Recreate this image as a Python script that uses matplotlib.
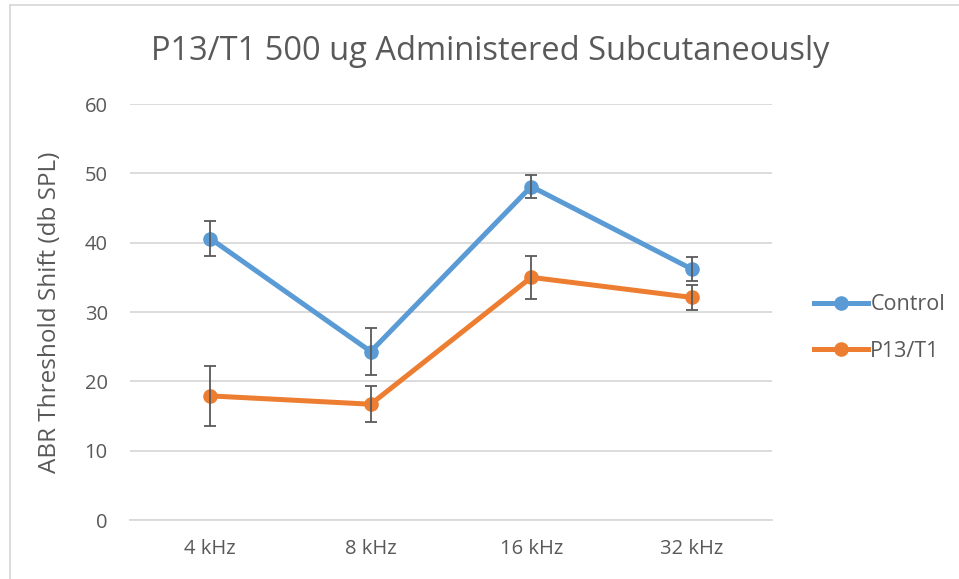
import numpy as np
import matplotlib
matplotlib.use('Agg')
import matplotlib.pyplot as plt
from matplotlib.lines import Line2D

# Data
freqs = ['4 kHz', '8 kHz', '16 kHz', '32 kHz']
control = [40.6, 24.3, 48.1, 36.2]
control_err = [2.5, 3.4, 1.6, 1.8]
p13 = [17.9, 16.7, 35.0, 32.1]
p13_err = [4.3, 2.6, 3.1, 1.8]

blue = '#5B9BD5'
orange = '#ED7D31'
grey = '#595959'

plt.rcParams['font.family'] = ['Open Sans', 'DejaVu Sans']

fig = plt.figure(figsize=(9.59, 5.79), dpi=100)
ax = fig.add_axes([130/959, 59/579, 642/959, 416/579])

x = np.arange(len(freqs))
ax.plot(x, control, color=blue, lw=3.6, marker='o', ms=9.5, zorder=3, label='Control')
ax.errorbar(x, control, yerr=control_err, fmt='none', ecolor=grey, elinewidth=1.3,
            capsize=4.5, capthick=1.3, zorder=4)
ax.plot(x, p13, color=orange, lw=3.6, marker='o', ms=9.5, zorder=3, label='P13/T1')
ax.errorbar(x, p13, yerr=p13_err, fmt='none', ecolor=grey, elinewidth=1.3,
            capsize=4.5, capthick=1.3, zorder=4)

ax.set_xlim(-0.5, len(freqs) - 0.5)
ax.set_ylim(0, 60)
ax.set_yticks(range(0, 61, 10))
ax.set_xticks(x)
ax.set_xticklabels(freqs)
ax.yaxis.grid(True, color='#d9d9d9', lw=1.3)
ax.set_axisbelow(True)
for s in ['top', 'right', 'left']:
    ax.spines[s].set_visible(False)
ax.spines['bottom'].set_color('#d9d9d9')
ax.spines['bottom'].set_linewidth(1.3)
ax.tick_params(length=0, colors=grey, labelsize=14.5)
ax.tick_params(axis='y', pad=16)
ax.tick_params(axis='x', pad=14)

ax.set_ylabel('ABR Threshold Shift (db SPL)', color=grey, fontsize=17.5, labelpad=16)
fig.text(490/959, 1 - 52/579, 'P13/T1 500 ug Administered Subcutaneously',
         ha='center', va='center', fontsize=23.5, color=grey)

handles = [Line2D([], [], color=blue, lw=3.6, marker='o', ms=9.5),
           Line2D([], [], color=orange, lw=3.6, marker='o', ms=9.5)]
fig.legend(handles, ['Control', 'P13/T1'], loc='center left',
           bbox_to_anchor=(795/959, 1 - 328/579), frameon=False, fontsize=15.5,
           labelcolor=grey, handlelength=2.5, handletextpad=0.1, labelspacing=1.2)

# chart border (left and top edges visible)
fig.add_artist(Line2D([10/959, 10/959], [0, 1 - 5/579], color='#d9d9d9', lw=1.3))
fig.add_artist(Line2D([10/959, 1], [1 - 5/579, 1 - 5/579], color='#d9d9d9', lw=1.3))

fig.savefig('out.png', dpi=100)
